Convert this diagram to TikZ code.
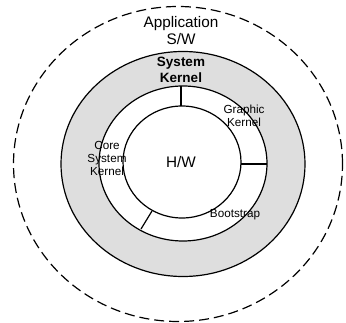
\documentclass[tikz,border=0pt]{standalone}
\usepackage{fontspec}
\setmainfont{Liberation Sans}
\begin{document}
\begin{tikzpicture}[x=1pt,y=-1pt,
  ring/.style={draw=black,line width=1.2pt},
  lbl/.style={inner sep=0pt,align=center,font=\fontsize{11.7}{13}\selectfont},
  big/.style={inner sep=0pt,align=center,font=\fontsize{15.3}{17}\selectfont},
  bold/.style={inner sep=0pt,align=center,font=\fontsize{13.5}{16}\selectfont\bfseries}]
\useasboundingbox (0,0) rectangle (346,323);
% outer dashed ellipse
\draw[line width=1.2pt,dash pattern=on 10pt off 5pt] (178,164) ellipse [x radius=164.5pt,y radius=157.5pt];
% gray ring
\fill[black!13] (183,164) ellipse [x radius=122pt,y radius=112.5pt];
\draw[ring] (183,164) ellipse [x radius=122pt,y radius=112.5pt];
% white ring
\fill[white] (183,163.5) ellipse [x radius=84pt,y radius=77.5pt];
\draw[ring] (183,163.5) ellipse [x radius=84pt,y radius=77.5pt];
% inner circle
\draw[ring] (182,162) ellipse [x radius=59pt,y radius=56pt];
% dividers
\coordinate (t1) at (181,106.5);
\coordinate (t2) at (181,86);
\coordinate (r1) at (241,164);
\coordinate (r2) at (267,164);
\coordinate (l1) at (152,211);
\coordinate (l2) at (141,229);
\draw[line width=1.2pt] (t1) -- (t2);
\draw[line width=1.2pt] (r1) -- (r2);
\draw[line width=1.2pt] (l1) -- (l2);
% labels
\node[big] (app) at (181,31) {Application\\S/W};
\node[bold] (sk) at (181,70) {System\\Kernel};
\node[lbl] (gk) at (244,116) {Graphic\\Kernel};
\node[lbl] (csk) at (107,158) {Core\\System\\Kernel};
\node[big] (hw) at (181,162) {H/W};
\node[lbl] (bs) at (235,215) {Bootstrap};
\end{tikzpicture}
\end{document}
